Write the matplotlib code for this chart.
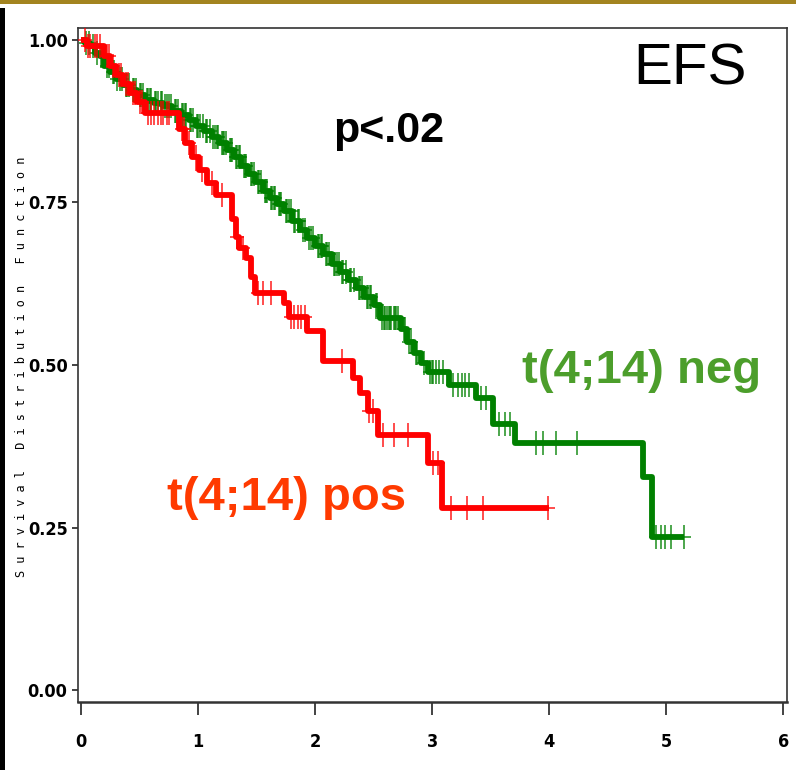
import numpy as np
import matplotlib
matplotlib.use("Agg")
import matplotlib.pyplot as plt
from matplotlib.patches import Rectangle

# Kaplan-Meier style step data: event times (years) and survival after each step
neg_times = [0.03, 0.08, 0.12, 0.16, 0.20, 0.25, 0.30, 0.36, 0.42, 0.48, 0.55, 0.62,
             0.70, 0.78, 0.85, 0.92, 0.98, 1.05, 1.12, 1.18, 1.25, 1.31, 1.37, 1.43,
             1.49, 1.55, 1.61, 1.67, 1.73, 1.80, 1.87, 1.93, 2.00, 2.07, 2.14, 2.21,
             2.28, 2.35, 2.42, 2.50, 2.55, 2.73, 2.78, 2.84, 2.90, 2.96, 3.14, 3.37,
             3.52, 3.71, 4.80, 4.88]
neg_surv = [0.995, 0.99, 0.98, 0.975, 0.96, 0.95, 0.94, 0.93, 0.922, 0.915, 0.908, 0.903,
            0.898, 0.891, 0.884, 0.876, 0.868, 0.860, 0.850, 0.841, 0.830, 0.819, 0.806, 0.794,
            0.781, 0.768, 0.757, 0.747, 0.736, 0.722, 0.708, 0.695, 0.683, 0.670, 0.656, 0.643,
            0.630, 0.618, 0.605, 0.592, 0.572, 0.555, 0.535, 0.518, 0.503, 0.49, 0.47, 0.45,
            0.41, 0.38, 0.328, 0.235]
neg_end = 5.15
neg_censor = [0.04, 0.07, 0.10, 0.14, 0.17, 0.19, 0.22, 0.24, 0.27, 0.28, 0.31, 0.33,
              0.35, 0.38, 0.39, 0.41, 0.44, 0.45, 0.47, 0.50, 0.51, 0.53, 0.56, 0.57,
              0.59, 0.60, 0.63, 0.64, 0.66, 0.68, 0.69, 0.72, 0.73, 0.75, 0.77, 0.80,
              0.81, 0.83, 0.86, 0.87, 0.89, 0.90, 0.93, 0.94, 0.96, 0.99, 1.00, 1.02,
              1.04, 1.07, 1.08, 1.10, 1.13, 1.14, 1.16, 1.17, 1.20, 1.21, 1.22, 1.24,
              1.27, 1.28, 1.29, 1.32, 1.33, 1.35, 1.36, 1.39, 1.40, 1.41, 1.45, 1.46,
              1.48, 1.51, 1.52, 1.54, 1.57, 1.58, 1.59, 1.62, 1.63, 1.65, 1.66, 1.69,
              1.70, 1.71, 1.75, 1.76, 1.78, 1.79, 1.82, 1.83, 1.85, 1.86, 1.90, 1.91,
              1.95, 1.96, 1.98, 2.02, 2.03, 2.05, 2.06, 2.09, 2.10, 2.12, 2.16, 2.17,
              2.19, 2.20, 2.23, 2.24, 2.26, 2.30, 2.31, 2.33, 2.37, 2.38, 2.40, 2.44,
              2.45, 2.47, 2.48, 2.52, 2.53, 2.57, 2.59, 2.60, 2.61, 2.63, 2.64, 2.65,
              2.67, 2.68, 2.69, 2.71, 2.76, 2.77, 2.80, 2.82, 2.86, 2.87, 2.93, 2.98,
              3.00, 3.01, 3.03, 3.06, 3.09, 3.18, 3.22, 3.25, 3.28, 3.31, 3.42, 3.46,
              3.57, 3.62, 3.66, 3.89, 3.95, 4.06, 4.24, 4.91, 4.95, 4.99, 5.04, 5.15]

pos_times = [0.05, 0.20, 0.25, 0.30, 0.36, 0.42, 0.48, 0.55, 0.84, 0.89, 0.95, 1.01,
             1.08, 1.15, 1.29, 1.32, 1.35, 1.41, 1.45, 1.49, 1.73, 1.78, 1.93, 2.07,
             2.32, 2.38, 2.45, 2.54, 2.96, 3.08]
pos_surv = [0.99, 0.975, 0.96, 0.945, 0.932, 0.918, 0.905, 0.888, 0.862, 0.842, 0.82, 0.80,
            0.78, 0.762, 0.725, 0.697, 0.68, 0.665, 0.635, 0.61, 0.595, 0.574, 0.552, 0.506,
            0.48, 0.457, 0.43, 0.393, 0.35, 0.28]
pos_end = 4.0
pos_censor = [0.03, 0.06, 0.08, 0.12, 0.14, 0.16, 0.22, 0.24, 0.27, 0.32, 0.34, 0.38,
              0.40, 0.44, 0.46, 0.50, 0.52, 0.57, 0.60, 0.62, 0.66, 0.68, 0.70, 0.73,
              0.75, 0.86, 0.88, 0.92, 0.98, 1.03, 1.12, 1.20, 1.33, 1.38, 1.51, 1.55,
              1.62, 1.79, 1.82, 1.85, 1.88, 1.91, 2.23, 2.46, 2.49, 2.58, 2.67, 2.79,
              3.01, 3.05, 3.16, 3.30, 3.43, 3.99]

x_ticks = [0, 1, 2, 3, 4, 5, 6]
y_ticks = [0.00, 0.25, 0.50, 0.75, 1.00]

NEG_COLOR = "#008000"
POS_COLOR = "#ff0000"


def km_curve(times, surv, end):
    t = np.concatenate([[0.0], times, [end]])
    s = np.concatenate([[1.0], surv, [surv[-1]]])
    return t, s


def level_at(t_steps, s_steps, t):
    idx = np.searchsorted(t_steps, t, side="right") - 1
    return s_steps[np.clip(idx, 0, len(s_steps) - 1)]


fig = plt.figure(figsize=(7.96, 7.7), dpi=100)
fig.patch.set_facecolor("white")

# slide decoration: gold rule on top and dark strip on the left
fig.patches.append(Rectangle((0, 1 - 4 / 770), 1, 4 / 770, transform=fig.transFigure,
                             facecolor="#a38420", edgecolor="none", zorder=0))
fig.patches.append(Rectangle((0, 0), 5 / 796, 1 - 8 / 770, transform=fig.transFigure,
                             facecolor="black", edgecolor="none", zorder=0))

ax = fig.add_axes([78 / 796, 68 / 770, 709 / 796, 674 / 770])

for times, surv, end, cens, color, z in [
    (neg_times, neg_surv, neg_end, neg_censor, NEG_COLOR, 2),
    (pos_times, pos_surv, pos_end, pos_censor, POS_COLOR, 4),
]:
    t, s = km_curve(times, surv, end)
    ax.step(t, s, where="post", color=color, lw=4.2, zorder=z, solid_capstyle="butt")
    cy = level_at(t, s, np.array(cens))
    ax.plot(cens, cy, ls="none", marker="|", ms=17, mew=1.4, color=color, alpha=0.7, zorder=z + 1)
    ax.plot(cens, cy, ls="none", marker="_", ms=10, mew=1.4, color=color, alpha=0.7, zorder=z + 1)

ax.set_xlim(-0.026, 6.03)
ax.set_ylim(-0.018, 1.018)
ax.set_xticks(x_ticks)
ax.set_yticks(y_ticks)
tick_font = dict(family="DejaVu Sans", stretch="condensed", weight="bold", size=13)
ax.set_xticklabels([str(v) for v in x_ticks], **tick_font)
ax.set_yticklabels([f"{v:.2f}" for v in y_ticks], **tick_font)
ax.tick_params(axis="x", length=9, width=1.2, pad=13, color="#222222")
ax.tick_params(axis="y", length=4.5, width=1.2, pad=3, color="#222222")
for side in ["left", "top", "right"]:
    ax.spines[side].set_linewidth(1.2)
    ax.spines[side].set_color("#333333")
ax.spines["bottom"].set_linewidth(1.8)
ax.spines["bottom"].set_color("#333333")

fig.text(22 / 796, 1 - 367 / 770,
         "S u r v i v a l   D i s t r i b u t i o n   F u n c t i o n",
         rotation=90, ha="center", va="center", family="DejaVu Sans Mono", size=8.6)

sans = ["Liberation Sans", "DejaVu Sans"]
ax.text(5.2, 0.931, "EFS", ha="center", va="baseline", family=sans, size=42, color="black")
ax.text(2.154, 0.843, "p<.02", ha="left", va="baseline", family=sans, weight="bold",
        size=31, color="black")
ax.text(3.77, 0.472, "t(4;14) neg", ha="left", va="baseline", family=sans, weight="bold",
        size=34, color="#4c9e2b")
ax.text(0.735, 0.277, "t(4;14) pos", ha="left", va="baseline", family=sans, weight="bold",
        size=34, color="#ff3a00")

fig.savefig("out.png", dpi=100, facecolor="white")
